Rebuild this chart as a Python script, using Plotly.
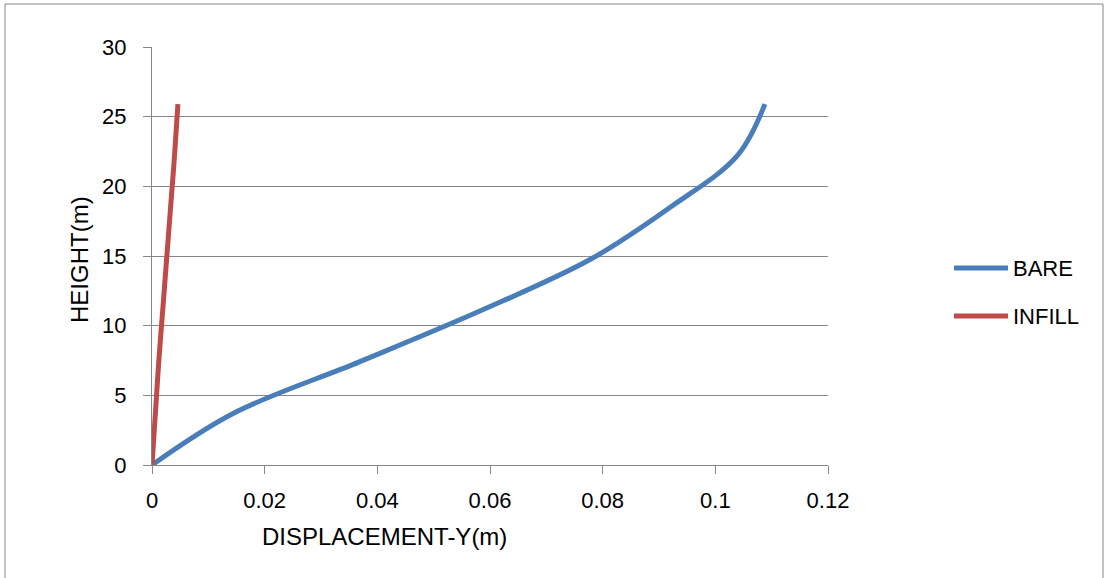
import plotly.graph_objects as go

# Storey levels (m) and lateral displacement (m) for the two frame models
height = [0, 3.7, 7.4, 11.1, 14.8, 18.5, 22.2, 25.9]
bare_disp = [0, 0.0144, 0.0368, 0.0585, 0.0780, 0.0920, 0.1039, 0.1088]
infill_disp = [0, 0.0006, 0.0012, 0.0019, 0.0026, 0.0033, 0.0040, 0.0046]

series_names = ["BARE", "INFILL"]
series_colors = ["#4A7EBB", "#BE4B48"]

x_ticks = [0, 0.02, 0.04, 0.06, 0.08, 0.1, 0.12]
x_tick_text = ["0", "0.02", "0.04", "0.06", "0.08", "0.1", "0.12"]
y_ticks = [0, 5, 10, 15, 20, 25, 30]

FONT = "Liberation Sans"
GRAY = "#868686"

W, H = 1104, 578
L, R, T, B = 152, 276, 47, 113
pw, ph = W - L - R, H - T - B


def px_x(p):
    return (p - L) / pw


def px_y(p):
    return (H - B - p) / ph


fig = go.Figure()
for name, xs, color in zip(series_names, [bare_disp, infill_disp], series_colors):
    fig.add_trace(go.Scatter(
        x=xs, y=height, name=name, mode="lines",
        line=dict(color=color, width=5, shape="spline", smoothing=1.0),
        showlegend=False,
    ))

# Legend drawn as line samples with labels
shapes = []
annotations = []
for i, (name, color) in enumerate(zip(series_names, series_colors)):
    yy = px_y(268 + i * 48)
    shapes.append(dict(type="line", xref="paper", yref="paper",
                       x0=px_x(954), x1=px_x(1008), y0=yy, y1=yy,
                       line=dict(color=color, width=5)))
    annotations.append(dict(xref="paper", yref="paper", x=px_x(1011), y=yy,
                            text=name, showarrow=False, xanchor="left",
                            yanchor="middle",
                            font=dict(family=FONT, size=22, color="black")))

# Outer chart border
shapes.append(dict(type="rect", xref="paper", yref="paper",
                   x0=px_x(5), x1=px_x(1103), y0=px_y(4), y1=px_y(600),
                   line=dict(color=GRAY, width=1), layer="below"))

annotations.append(dict(xref="paper", yref="paper", x=px_x(384), y=px_y(536),
                        text="DISPLACEMENT-Y(m)", showarrow=False,
                        xanchor="center", yanchor="middle",
                        font=dict(family=FONT, size=24, color="black")))
annotations.append(dict(xref="paper", yref="paper", x=px_x(79), y=px_y(260),
                        text="HEIGHT(m)", showarrow=False, textangle=-90,
                        xanchor="center", yanchor="middle",
                        font=dict(family=FONT, size=24, color="black")))

fig.update_layout(
    width=W, height=H,
    margin=dict(l=L, r=R, t=T, b=B),
    paper_bgcolor="white", plot_bgcolor="white",
    font=dict(family=FONT, size=22, color="black"),
    shapes=shapes, annotations=annotations,
    xaxis=dict(range=[0, 0.12], tickvals=x_ticks, ticktext=x_tick_text,
               showgrid=False, zeroline=False, showline=True,
               linecolor=GRAY, linewidth=1, ticks="outside", ticklen=8,
               tickcolor=GRAY, tickfont=dict(family=FONT, size=22),
               ticklabelstandoff=8),
    yaxis=dict(range=[0, 30], tickvals=y_ticks,
               showgrid=True, gridcolor=GRAY, gridwidth=1,
               zeroline=False, showline=True,
               linecolor=GRAY, linewidth=1, ticks="outside", ticklen=8,
               tickcolor=GRAY, tickfont=dict(family=FONT, size=22),
               ticklabelstandoff=12),
)

fig.write_html("out.html")
